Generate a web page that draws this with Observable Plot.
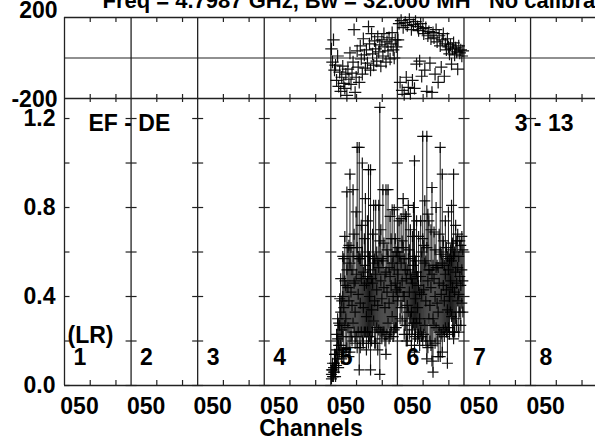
<!DOCTYPE html>
<html><head><meta charset="utf-8">
<script src="https://cdn.jsdelivr.net/npm/d3@7"></script>
<script src="https://cdn.jsdelivr.net/npm/@observablehq/plot@0.6"></script>
<style>
body{margin:0;background:#fff;}
#wrap{position:relative;width:595px;height:440px;overflow:hidden;background:#fff;font-family:"Liberation Sans",Arial,Helvetica,sans-serif;}
#wrap svg{position:absolute;left:0;top:0;}
</style></head><body><div id="wrap"></div>
<script>
// ---------- texts ----------
const titleText = "Freq = 4.7987 GHz, Bw = 32.000 MH   No calibration applied";
const baselineText = "EF - DE";
const stokesText = "(LR)";
const rangeText = "3 - 13";
const xTitle = "Channels";
const ifNumbers = ["1","2","3","4","5","6","7","8"];
const xTickLabels = ["050","050","050","050","050","050","050","050"];
const phaseTicks = [200, -200];
const ampTickLabels = [1.2, 0.8, 0.4, 0.0];
const ampMinorTicks = [0, 0.2, 0.4, 0.6, 0.8, 1.0, 1.2];
const chanTicks = [25, 50];

// ---------- data: IF 5 and IF 6, 64 channels each ----------
const amp5 = [0.05,0.07,0.06,0.10,0.09,0.16,0.21,0.18,0.27,0.33,0.25,0.40,0.35,0.47,0.30,0.52,
              0.44,0.38,0.55,0.42,0.36,0.58,0.46,0.33,0.50,0.62,0.41,0.57,0.37,0.48,0.60,0.35,
              0.45,0.54,0.31,0.49,0.58,0.40,0.52,0.34,0.46,0.55,0.38,0.50,0.43,0.36,0.53,0.65,
              0.47,0.39,0.56,0.44,0.35,0.51,0.42,0.58,0.37,0.49,0.45,0.55,0.40,0.52,0.46,0.43];
const err5 = [0.02,0.03,0.02,0.04,0.05,0.07,0.09,0.10,0.12,0.15,0.13,0.18,0.22,0.20,0.15,0.35,
              0.18,0.25,0.40,0.20,0.16,0.30,0.22,0.14,0.28,0.45,0.17,0.50,0.20,0.24,0.40,0.16,
              0.21,0.30,0.15,0.25,0.39,0.18,0.45,0.14,0.22,0.26,0.19,0.31,0.17,0.20,0.28,0.60,
              0.23,0.18,0.32,0.20,0.15,0.37,0.19,0.30,0.16,0.27,0.21,0.24,0.18,0.27,0.20,0.17];
const amp6 = [0.50,0.58,0.44,0.55,0.47,0.62,0.40,0.52,0.48,0.36,0.57,0.42,0.50,0.33,0.46,0.54,
              0.58,0.39,0.51,0.35,0.45,0.30,0.49,0.41,0.66,0.43,0.55,0.38,0.62,0.47,0.52,0.36,
              0.44,0.50,0.30,0.48,0.40,0.53,0.37,0.33,0.46,0.60,0.41,0.55,0.45,0.38,0.50,0.43,
              0.34,0.52,0.40,0.47,0.56,0.44,0.58,0.42,0.51,0.46,0.53,0.41,0.49,0.45,0.52,0.47];
const err6 = [0.12,0.16,0.14,0.20,0.18,0.22,0.17,0.25,0.28,0.16,0.24,0.19,0.20,0.15,0.21,0.26,
              0.43,0.17,0.23,0.14,0.22,0.12,0.25,0.19,0.46,0.20,0.28,0.18,0.50,0.30,0.22,0.16,
              0.26,0.39,0.24,0.21,0.21,0.27,0.17,0.20,0.22,0.47,0.18,0.40,0.20,0.16,0.24,0.19,
              0.24,0.26,0.17,0.14,0.25,0.20,0.37,0.18,0.21,0.19,0.15,0.17,0.16,0.18,0.15,0.14];
const phase5 = [45,-20,90,-60,-35,-110,10,-140,-70,-165,-95,-40,-125,-150,-80,-185,
                -55,-105,25,-130,-75,-20,140,-170,-95,35,-45,-120,60,-5,-80,95,
                15,-50,40,-25,155,70,-60,120,20,-35,85,45,-15,105,30,65,
                -40,90,10,120,55,-20,80,35,100,-5,70,125,40,0,90,55];
const phase6 = [90,170,-120,185,-160,150,-180,175,-95,160,-145,190,-175,140,-110,165,
                -150,180,-30,155,135,-15,170,-90,145,120,-60,150,-165,110,130,-25,
                95,-170,125,100,-80,140,80,-120,110,60,-45,90,120,-90,70,40,
                95,55,20,65,-30,45,75,15,50,30,-55,60,25,40,10,35];

// ---------- layout constants ----------
const IFW = 64.7;               // channel units per IF segment
const ifStarts = d3.range(8).map(k => k * IFW);
const tickPos = ifStarts.flatMap(s => chanTicks.map(t => s + t));

function rowsFor(k, amp, err, ph) {
  return amp.map((v, c) => ({x: k * IFW + c + 0.6, v, e: err[c], p: ph[c]}));
}
const rows = [...rowsFor(4, amp5, err5, phase5), ...rowsFor(5, amp6, err6, phase6)];

// custom stroked symbols
const plus = {draw(ctx, size){const r = Math.sqrt(size/Math.PI); ctx.moveTo(-r,0); ctx.lineTo(r,0); ctx.moveTo(0,-r); ctx.lineTo(0,r);}};
const hbar = {draw(ctx, size){const r = Math.sqrt(size/Math.PI); ctx.moveTo(-r,0); ctx.lineTo(r,0);}};
const hbarR = {draw(ctx, size){const r = Math.sqrt(size/Math.PI); ctx.moveTo(0,0); ctx.lineTo(r,0);}};

const FONT = {fontSize: 23, fontWeight: "bold", fill: "#000"};
const LINE = "#222";
const xCfg = {domain: [0, 516], axis: null};
const MARK = {stroke: "#000", strokeWidth: 1.2, fill: "none", strokeOpacity: 0.92};

// ---------- top panel: phase ----------
const topH = 98 - 17;
const topPlot = Plot.plot({
  width: 595, height: 440, marginLeft: 64, marginRight: 0, marginTop: 17, marginBottom: 440 - 98,
  style: {background: "transparent", fontFamily: "Liberation Sans, Arial, sans-serif", overflow: "visible"},
  x: xCfg,
  y: {domain: [-200, 200], axis: null},
  marks: [
    Plot.ruleY(phaseTicks, {stroke: LINE, strokeWidth: 1.3}),
    Plot.ruleY([0], {stroke: LINE, strokeWidth: 1.1}),
    Plot.ruleX(ifStarts, {stroke: LINE, strokeWidth: 1.3}),
    Plot.ruleX(tickPos, {stroke: LINE, strokeWidth: 1.2, insetBottom: topH - 5}),
    Plot.ruleX(tickPos, {stroke: LINE, strokeWidth: 1.2, insetTop: topH - 4}),
    Plot.dot(rows, {x: "x", y: "p", symbol: plus, r: 6.2, ...MARK}),
    Plot.text([phaseTicks[0]], {y: d => d, text: d => String(d), frameAnchor: "left", textAnchor: "end", lineAnchor: "middle", dx: -7, dy: -7, ...FONT}),
    Plot.text([phaseTicks[1]], {y: d => d, text: d => String(d), frameAnchor: "left", textAnchor: "end", lineAnchor: "middle", dx: -7, dy: 1, ...FONT}),
    Plot.text([titleText], {text: d => d, frameAnchor: "top-left", textAnchor: "start", lineAnchor: "top", dx: 38, dy: -25, fontSize: 22, fontWeight: "bold", fill: "#000"})
  ]
});

// ---------- bottom panel: amplitude ----------
const botH = 385 - 98;
const botPlot = Plot.plot({
  width: 595, height: 440, marginLeft: 64, marginRight: 0, marginTop: 98, marginBottom: 440 - 385,
  style: {background: "transparent", fontFamily: "Liberation Sans, Arial, sans-serif", overflow: "visible"},
  x: xCfg,
  y: {domain: [0, 1.29], axis: null},
  marks: [
    Plot.ruleX(ifStarts, {stroke: LINE, strokeWidth: 1.3}),
    Plot.ruleY([0], {stroke: LINE, strokeWidth: 1.5}),
    Plot.ruleX(tickPos, {stroke: LINE, strokeWidth: 1.2, insetTop: botH - 5}),
    Plot.ruleX(tickPos, {stroke: LINE, strokeWidth: 1.2, insetBottom: botH - 4}),
    Plot.dot(ifStarts.slice(1).flatMap(s => ampMinorTicks.map(t => ({x: s, y: t}))), {x: "x", y: "y", symbol: hbar, r: 5.5, stroke: LINE, strokeWidth: 1.2}),
    Plot.dot(ampMinorTicks.map(t => ({x: 0, y: t})), {x: "x", y: "y", symbol: hbarR, r: 5, stroke: LINE, strokeWidth: 1.2}),
    Plot.ruleX(rows, {x: "x", y1: d => d.v - d.e, y2: d => d.v + d.e, stroke: "#000", strokeWidth: 1, strokeOpacity: 0.9}),
    Plot.dot(rows, {x: "x", y: d => d.v + d.e, symbol: plus, r: 5.5, ...MARK}),
    Plot.dot(rows, {x: "x", y: "v", symbol: plus, r: 5.5, ...MARK}),
    Plot.dot(rows, {x: "x", y: d => d.v - d.e, symbol: plus, r: 5.5, ...MARK}),
    Plot.text(ampTickLabels, {y: d => d, text: d => d.toFixed(1), frameAnchor: "left", textAnchor: "end", lineAnchor: "middle", dx: -9, ...FONT}),
    Plot.text(ifStarts, {x: d => d, text: (d, i) => xTickLabels[i], frameAnchor: "bottom", textAnchor: "middle", lineAnchor: "top", dx: 15, dy: 12, ...FONT}),
    Plot.text(ifStarts, {x: d => d, text: (d, i) => ifNumbers[i], frameAnchor: "bottom", textAnchor: "start", lineAnchor: "middle", dx: 9, dy: -28, ...FONT}),
    Plot.text([stokesText], {text: d => d, frameAnchor: "bottom-left", textAnchor: "start", lineAnchor: "middle", dx: 3, dy: -50, ...FONT}),
    Plot.text([baselineText], {text: d => d, frameAnchor: "top-left", textAnchor: "start", lineAnchor: "middle", dx: 24, dy: 25, ...FONT}),
    Plot.text([rangeText], {text: d => d, frameAnchor: "top-right", textAnchor: "end", lineAnchor: "middle", dx: -22, dy: 25, ...FONT}),
    Plot.text([xTitle], {text: d => d, frameAnchor: "bottom", textAnchor: "middle", lineAnchor: "top", dx: -19, dy: 34, ...FONT})
  ]
});

const wrap = document.getElementById("wrap");
wrap.appendChild(botPlot);
wrap.appendChild(topPlot);
</script></body></html>
